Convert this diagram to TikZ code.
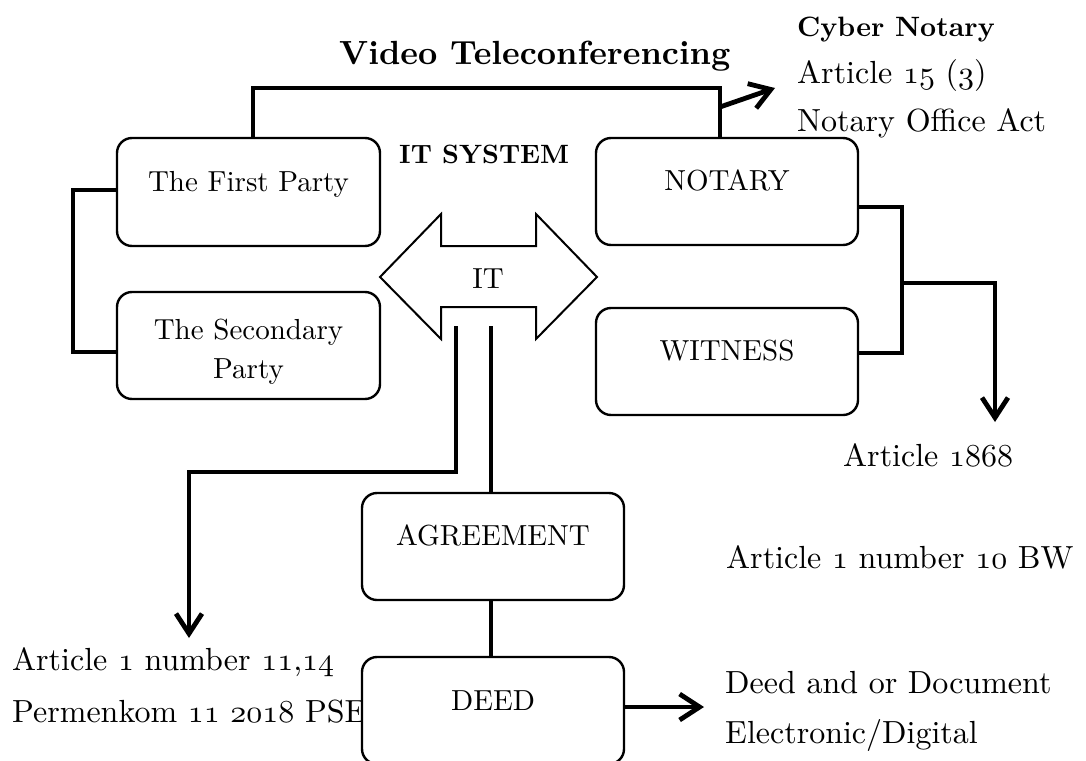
\documentclass[tikz,border=0pt]{standalone}
\usepackage{fontspec}
\setmainfont{lmroman10-regular.otf}[BoldFont=lmroman10-bold.otf]
\usetikzlibrary{arrows.meta,calc}
\DeclareFontFamily{OML}{xosf}{\skewchar\font127 }
\DeclareFontShape{OML}{xosf}{m}{it}{<->cmmi10}{}
\newcommand\osf[1]{{\fontencoding{OML}\fontfamily{xosf}\fontseries{m}\fontshape{it}\fontsize{32}{38}\selectfont #1}}
\begin{document}
\begin{tikzpicture}[x=1pt,y=-1pt,
  box/.style={draw, line width=2.4pt, rounded corners=15pt, fill=white,
    minimum width=262pt, minimum height=107pt, inner sep=0pt},
  btext/.style={inner sep=0pt, anchor=base, font=\fontsize{29}{34}\selectfont},
  otext/.style={inner sep=0pt, anchor=base west, font=\fontsize{32}{38}\selectfont},
  conn/.style={line width=4.8pt},
  arr/.style={conn, -{Straight Barb[length=20pt,width=26pt]}}]
\useasboundingbox (0,0) rectangle (1086,760);
\clip (0,0) rectangle (1086,760);
\fill[white] (0,0) rectangle (1086,760);

% free texts
\node[otext, font=\fontsize{33.5}{38}\selectfont\bfseries] (vt) at (339,64) {Video Teleconferencing};
\node[otext, font=\fontsize{26.5}{30}\selectfont\bfseries] (its) at (399,163) {IT SYSTEM};
\node[otext, font=\fontsize{28}{34}\selectfont\bfseries] (cyb) at (797,37) {Cyber Notary};
\node[otext] (a15) at (797,83) {Article \osf{15} (\osf{3})};
\node[otext] (noa) at (797,131) {Notary Office Act};
\node[otext] (a1868) at (843,466) {Article \osf{1868}};
\node[otext] (a110) at (726,568) {Article \osf{1} number \osf{10} BW};
\node[otext] (dd1) at (725,693) {Deed and or Document};
\node[otext] (dd2) at (725,743) {Electronic/Digital};
\node[otext] (a111) at (12,670) {Article \osf{1} number \osf{11},\osf{14}};
\node[otext] (perm) at (12,722) {Permenkom \osf{11} \osf{2018} PSE};

% boxes
\node[box, minimum width=263pt, minimum height=108pt] (fp) at (248.5,192) {};
\node[box, minimum width=263pt] (sp) at (248.5,345.5) {};
\node[box] (no) at (727,191.5) {};
\node[box] (wi) at (727,361.5) {};
\node[box] (ag) at (493,546.5) {};
\node[box] (de) at (493,710.5) {};

\node[btext] (fpt) at (248.5,191) {The First Party};
\node[btext] (spt1) at (248.5,339) {The Secondary};
\node[btext] (spt2) at (248.5,378) {Party};
\node[btext] (not) at (727,190) {NOTARY};
\node[btext] (wit) at (727,360) {WITNESS};
\node[btext] (agt) at (493,545) {AGREEMENT};
\node[btext] (det) at (493,710) {DEED};

% IT double arrow
\draw[line width=2pt, line join=miter, fill=white]
  (380,277) -- (441,214) -- (441,246) -- (536,246) -- (536,214) -- (597,277)
  -- (536,339) -- (536,307) -- (441,307) -- (441,339) -- cycle;
\node[btext] (itt) at (488,288) {IT};

% coordinates
\coordinate (l1) at (456,326);
\coordinate (l2) at (491,326);
\coordinate (vtc) at (720,107);
\coordinate (cybt) at (775,88);
\coordinate (a1868t) at (995,422);
\coordinate (a111t) at (189,638);
\coordinate (det2) at (704,707);

% connectors
\draw[conn] ($(fp.west)+(0,-2)$) -- (73,190) -- (73,352) -- ($(sp.west)+(0,6.5)$);
\draw[conn] ($(fp.north)+(4.5,0)$) -- (253,88) -- (720,88) -- ($(no.north)+(-7,0)$);
\draw[arr] (vtc) -- (cybt);
\draw[conn] ($(no.east)+(0,15.5)$) -- (902,207) -- (902,353) -- ($(wi.east)+(0,-8.5)$);
\draw[arr] (902,283) -- (995,283) -- (a1868t);
\draw[arr] (l1) -- (456,472) -- (189,472) -- (a111t);
\draw[conn] (l2) -- ($(ag.north)+(-2,0)$);
\draw[conn] ($(ag.south)+(-2,0)$) -- ($(de.north)+(-2,0)$);
\draw[arr] ($(de.east)+(0,-3.5)$) -- (det2);
\end{tikzpicture}
\end{document}
